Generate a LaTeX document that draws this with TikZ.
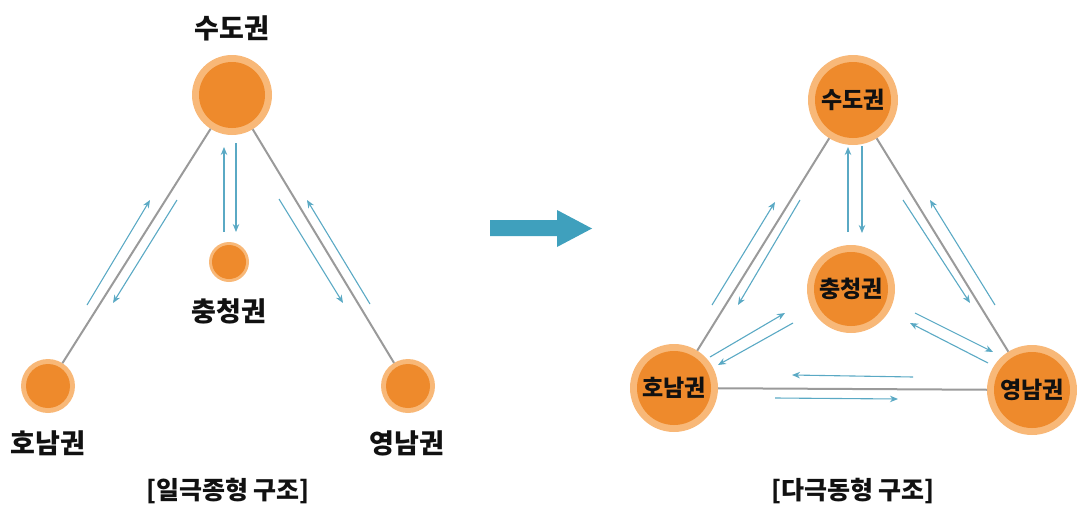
\documentclass[tikz,border=0pt]{standalone}
\usepackage{fontspec}
\newfontfamily\kr{Noto Sans CJK KR}
\usetikzlibrary{arrows.meta}
\definecolor{ringC}{HTML}{F8B878}
\definecolor{coreC}{HTML}{EE8A2C}
\definecolor{flowC}{HTML}{5AA9C4}
\definecolor{bigC}{HTML}{3FA0BD}
\definecolor{edgeC}{HTML}{9A9A9A}
\definecolor{txtC}{HTML}{111111}
\tikzset{
  region/.style={circle, fill=ringC, minimum size=#1, inner sep=0pt, outer sep=0pt},
  core/.style={circle, fill=coreC, minimum size=#1, inner sep=0pt},
  lab/.style={font=\kr\bfseries\fontsize{27}{27}\selectfont, text=txtC},
  inlab/.style={font=\kr\bfseries\fontsize{23}{23}\selectfont, text=txtC},
  captxt/.style={font=\kr\bfseries\fontsize{25}{25}\selectfont, text=txtC},
  link/.style={draw=edgeC, line width=2pt},
  flow/.style={draw=flowC, line width=1.1pt, -{Stealth[length=8pt,width=6.5pt]}},
}
\begin{document}
\begin{tikzpicture}[x=1pt,y=-1pt]
\useasboundingbox (0,0) rectangle (1077,506);
% ---------- left: 일극종형 ----------
\node[region=80pt] (Lsu) at (232,95) {};
\node[core=66pt] at (Lsu) {};
\node[region=40pt] (Lch) at (229,262) {};
\node[core=34pt] at (Lch) {};
\node[region=54pt] (Lho) at (48,386) {};
\node[core=44pt] at (Lho) {};
\node[region=54pt] (Lyo) at (408,386) {};
\node[core=44pt] at (Lyo) {};
\node[lab] (tLsu) at (232,28) {수도권};
\node[lab] (tLch) at (229,311) {충청권};
\node[lab] (tLho) at (48,443) {호남권};
\node[lab] (tLyo) at (407,443) {영남권};
\node[captxt] (capL) at (228,491) {[일극종형 구조]};
\draw[link] (Lsu) -- (Lho);
\draw[link] (Lsu) -- (Lyo);
\coordinate (as1) at (87,305);  \coordinate (ae1) at (150,200);
\coordinate (as2) at (177,200); \coordinate (ae2) at (113,303);
\coordinate (as3) at (224,232); \coordinate (ae3) at (224,147);
\coordinate (as4) at (236,143); \coordinate (ae4) at (236,232);
\coordinate (as5) at (279,199); \coordinate (ae5) at (343,303);
\coordinate (as6) at (370,304); \coordinate (ae6) at (307,200);
\foreach \i in {1,...,6} \draw[flow] (as\i) -- (ae\i);
% ---------- big arrow ----------
\fill[bigC] (490,220) -- (557,220) -- (557,210) -- (592,228.5) -- (557,247) -- (557,236) -- (490,236) -- cycle;
% ---------- right: 다극동형 ----------
\node[region=90pt] (Rsu) at (853,100) {};
\node[core=76pt] at (Rsu) {};
\node[region=88pt] (Rch) at (851,289) {};
\node[core=74pt] at (Rch) {};
\node[region=88pt] (Rho) at (674,388) {};
\node[core=74pt] at (Rho) {};
\node[region=90pt] (Ryo) at (1032,390) {};
\node[core=76pt] at (Ryo) {};
\node[inlab] at (Rsu) {수도권};
\node[inlab] at (Rch) {충청권};
\node[inlab] at (Rho) {호남권};
\node[inlab] at (Ryo) {영남권};
\node[captxt] (capR) at (853,491) {[다극동형 구조]};
\draw[link] (Rsu) -- (Rho);
\draw[link] (Rsu) -- (Ryo);
\draw[link] (Rho) -- (Ryo);
\coordinate (bs1) at (712,305);  \coordinate (be1) at (775,202);
\coordinate (bs2) at (800,200);  \coordinate (be2) at (738,305);
\coordinate (bs3) at (848,232);  \coordinate (be3) at (848,147);
\coordinate (bs4) at (862,146);  \coordinate (be4) at (862,233);
\coordinate (bs5) at (903,200);  \coordinate (be5) at (970,303);
\coordinate (bs6) at (995,305);  \coordinate (be6) at (930,200);
\coordinate (bs7) at (710,357);  \coordinate (be7) at (785,313);
\coordinate (bs8) at (793,323);  \coordinate (be8) at (718,365);
\coordinate (bs9) at (915,313);  \coordinate (be9) at (993,352);
\coordinate (bs10) at (988,363); \coordinate (be10) at (910,323);
\coordinate (bs11) at (913,377); \coordinate (be11) at (792,375);
\coordinate (bs12) at (775,398); \coordinate (be12) at (898,399);
\foreach \i in {1,...,12} \draw[flow] (bs\i) -- (be\i);
\end{tikzpicture}
\end{document}
